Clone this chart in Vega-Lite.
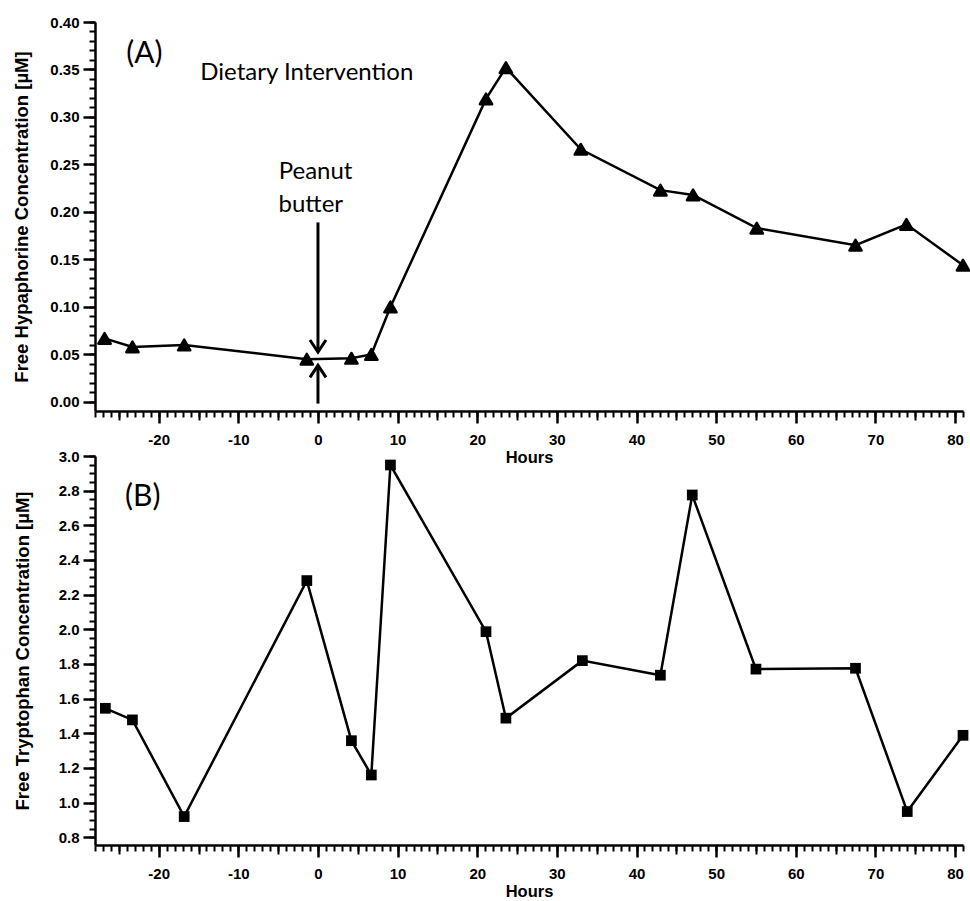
{
  "$schema": "https://vega.github.io/schema/vega-lite/v6.json",
  "background": "white",
  "padding": {"left": 12, "top": 15, "right": 0, "bottom": 5},
  "bounds": "flush",
  "spacing": 45,
  "config": {
    "view": {"stroke": null},
    "axis": {
      "labelFont": "Liberation Sans", "labelFontWeight": "bold", "labelFontSize": 15, "labelColor": "black",
      "titleFont": "Liberation Sans", "titleFontWeight": "bold", "titleColor": "black",
      "domainColor": "black", "tickColor": "black", "grid": false, "labelFlush": false, "labelOverlap": false
    }
  },
  "datasets": {
    "A": [
      {"h": -26.8, "v": 0.067}, {"h": -23.3, "v": 0.058}, {"h": -16.8, "v": 0.060}, {"h": -1.4, "v": 0.045},
      {"h": 4.2, "v": 0.046}, {"h": 6.7, "v": 0.050}, {"h": 9.1, "v": 0.100}, {"h": 21.1, "v": 0.319},
      {"h": 23.6, "v": 0.352}, {"h": 33.0, "v": 0.266}, {"h": 43.0, "v": 0.223}, {"h": 47.1, "v": 0.218},
      {"h": 55.1, "v": 0.183}, {"h": 67.5, "v": 0.165}, {"h": 73.9, "v": 0.187}, {"h": 81.0, "v": 0.144}
    ],
    "B": [
      {"h": -26.7, "v": 1.544}, {"h": -23.3, "v": 1.477}, {"h": -16.8, "v": 0.919}, {"h": -1.4, "v": 2.281},
      {"h": 4.2, "v": 1.357}, {"h": 6.7, "v": 1.159}, {"h": 9.1, "v": 2.948}, {"h": 21.1, "v": 1.986},
      {"h": 23.6, "v": 1.487}, {"h": 33.2, "v": 1.819}, {"h": 43.0, "v": 1.735}, {"h": 47.0, "v": 2.775},
      {"h": 55.0, "v": 1.770}, {"h": 67.5, "v": 1.775}, {"h": 74.0, "v": 0.948}, {"h": 81.0, "v": 1.388}
    ],
    "labelsA": [
      {"h": -21.8, "v": 0.366, "t": "(A)", "s": 30},
      {"h": -1.4, "v": 0.346, "t": "Dietary Intervention", "s": 24},
      {"h": -0.3, "v": 0.242, "t": "Peanut", "s": 24},
      {"h": -0.9, "v": 0.207, "t": "butter", "s": 24}
    ],
    "labelsB": [
      {"h": -22, "v": 2.764, "t": "(B)", "s": 30}
    ],
    "shafts": [
      {"h": 0, "y1": 0.189, "y2": 0.055},
      {"h": 0, "y1": -0.0017, "y2": 0.036}
    ],
    "heads": [
      {"h": 0, "v": 0.0526, "dir": "down"},
      {"h": 0, "v": 0.0386, "dir": "up"}
    ]
  },
  "vconcat": [
    {
      "width": 868,
      "height": 389,
      "resolve": {"axis": {"x": "independent", "y": "independent"}},
      "layer": [
        {
          "data": {"name": "A"},
          "mark": {"type": "line", "color": "black", "strokeWidth": 2.5},
          "encoding": {
            "x": {"field": "h", "type": "quantitative", "scale": {"domain": [-28, 81], "nice": false, "zero": false},
              "axis": {"orient": "bottom", "values": [-20, -10, 0, 10, 20, 30, 40, 50, 60, 70, 80], "labelExpr": "'' + datum.value", "tickSize": 12, "tickWidth": 2.5,
                "domainWidth": 2.5, "labelPadding": 9, "title": "Hours", "titleFontSize": 16.5, "titlePadding": 2}},
            "y": {"field": "v", "type": "quantitative", "scale": {"domain": [-0.0095, 0.4], "nice": false, "zero": false},
              "axis": {"orient": "left", "values": [0, 0.05, 0.1, 0.15, 0.2, 0.25, 0.3, 0.35, 0.4], "format": ".2f", "tickSize": 12, "tickWidth": 2.5,
                "domainWidth": 2.5, "labelPadding": 4, "title": "Free Hypaphorine Concentration [µM]", "titleFontSize": 18.5, "titlePadding": 18}}
          }
        },
        {
          "data": {"name": "A"},
          "mark": {"type": "point", "opacity": 0},
          "encoding": {
            "x": {"field": "h", "type": "quantitative", "scale": {"domain": [-28, 81], "nice": false, "zero": false},
              "axis": {"orient": "bottom", "values": [-28,-27,-26,-25,-24,-23,-22,-21,-20,-19,-18,-17,-16,-15,-14,-13,-12,-11,-10,-9,-8,-7,-6,-5,-4,-3,-2,-1,0,1,2,3,4,5,6,7,8,9,10,11,12,13,14,15,16,17,18,19,20,21,22,23,24,25,26,27,28,29,30,31,32,33,34,35,36,37,38,39,40,41,42,43,44,45,46,47,48,49,50,51,52,53,54,55,56,57,58,59,60,61,62,63,64,65,66,67,68,69,70,71,72,73,74,75,76,77,78,79,80,81],
                "tickSize": 6, "tickWidth": 2, "labels": false, "domain": false, "title": null}},
            "y": {"field": "v", "type": "quantitative", "scale": {"domain": [-0.0095, 0.4], "nice": false, "zero": false},
              "axis": {"orient": "left", "values": [0,0.01,0.02,0.03,0.04,0.05,0.06,0.07,0.08,0.09,0.1,0.11,0.12,0.13,0.14,0.15,0.16,0.17,0.18,0.19,0.2,0.21,0.22,0.23,0.24,0.25,0.26,0.27,0.28,0.29,0.3,0.31,0.32,0.33,0.34,0.35,0.36,0.37,0.38,0.39,0.4],
                "tickSize": 6, "tickWidth": 2, "labels": false, "domain": false, "title": null}}
          }
        },
        {
          "data": {"name": "A"},
          "mark": {"type": "point", "opacity": 0},
          "encoding": {
            "x": {"field": "h", "type": "quantitative", "scale": {"domain": [-28, 81], "nice": false, "zero": false},
              "axis": {"orient": "bottom", "values": [-25,-15,-5,5,15,25,35,45,55,65,75], "tickSize": 9, "tickWidth": 2, "labels": false, "domain": false, "title": null}},
            "y": {"field": "v", "type": "quantitative", "axis": null}
          }
        },
        {
          "data": {"name": "A"},
          "mark": {"type": "point", "shape": "triangle-up", "filled": true, "color": "black", "stroke": "black", "strokeWidth": 2.5, "strokeJoin": "round", "size": 150, "opacity": 1},
          "encoding": {
            "x": {"field": "h", "type": "quantitative", "axis": null},
            "y": {"field": "v", "type": "quantitative", "axis": null}
          }
        },
        {
          "data": {"name": "shafts"},
          "mark": {"type": "rule", "color": "black", "strokeWidth": 3},
          "encoding": {
            "x": {"field": "h", "type": "quantitative", "axis": null},
            "y": {"field": "y1", "type": "quantitative", "axis": null},
            "y2": {"field": "y2"}
          }
        },
        {
          "data": {"name": "heads"},
          "mark": {"type": "point", "filled": false, "color": "black", "strokeWidth": 3, "size": 256, "opacity": 1},
          "encoding": {
            "x": {"field": "h", "type": "quantitative", "axis": null},
            "y": {"field": "v", "type": "quantitative", "axis": null},
            "shape": {"field": "dir", "type": "nominal", "legend": null,
              "scale": {"domain": ["down", "up"], "range": ["M-1,-1.5L0,0L1,-1.5", "M-1,1.5L0,0L1,1.5"]}}
          }
        },
        {
          "data": {"name": "labelsA"},
          "mark": {"type": "text", "font": "Lato", "color": "black", "align": "center", "baseline": "middle"},
          "encoding": {
            "x": {"field": "h", "type": "quantitative", "axis": null},
            "y": {"field": "v", "type": "quantitative", "axis": null},
            "text": {"field": "t"},
            "size": {"field": "s", "type": "quantitative", "scale": null}
          }
        }
      ]
    },
    {
      "width": 868,
      "height": 389,
      "resolve": {"axis": {"x": "independent", "y": "independent"}},
      "layer": [
        {
          "data": {"name": "B"},
          "mark": {"type": "line", "color": "black", "strokeWidth": 2.5},
          "encoding": {
            "x": {"field": "h", "type": "quantitative", "scale": {"domain": [-28, 81], "nice": false, "zero": false},
              "axis": {"orient": "bottom", "values": [-20, -10, 0, 10, 20, 30, 40, 50, 60, 70, 80], "labelExpr": "'' + datum.value", "tickSize": 12, "tickWidth": 2.5,
                "domainWidth": 2.5, "labelPadding": 9, "title": "Hours", "titleFontSize": 16.5, "titlePadding": 2}},
            "y": {"field": "v", "type": "quantitative", "scale": {"domain": [0.755, 3.0], "nice": false, "zero": false},
              "axis": {"orient": "left", "values": [0.8, 1.0, 1.2, 1.4, 1.6, 1.8, 2.0, 2.2, 2.4, 2.6, 2.8, 3.0], "format": ".1f", "tickSize": 12, "tickWidth": 2.5,
                "domainWidth": 2.5, "labelPadding": 4, "title": "Free Tryptophan Concentration [µM]", "titleFontSize": 18.5, "titlePadding": 26}}
          }
        },
        {
          "data": {"name": "B"},
          "mark": {"type": "point", "opacity": 0},
          "encoding": {
            "x": {"field": "h", "type": "quantitative", "scale": {"domain": [-28, 81], "nice": false, "zero": false},
              "axis": {"orient": "bottom", "values": [-28,-27,-26,-25,-24,-23,-22,-21,-20,-19,-18,-17,-16,-15,-14,-13,-12,-11,-10,-9,-8,-7,-6,-5,-4,-3,-2,-1,0,1,2,3,4,5,6,7,8,9,10,11,12,13,14,15,16,17,18,19,20,21,22,23,24,25,26,27,28,29,30,31,32,33,34,35,36,37,38,39,40,41,42,43,44,45,46,47,48,49,50,51,52,53,54,55,56,57,58,59,60,61,62,63,64,65,66,67,68,69,70,71,72,73,74,75,76,77,78,79,80,81],
                "tickSize": 6, "tickWidth": 2, "labels": false, "domain": false, "title": null}},
            "y": {"field": "v", "type": "quantitative", "scale": {"domain": [0.755, 3.0], "nice": false, "zero": false},
              "axis": {"orient": "left", "values": [0.8,0.85,0.9,0.95,1.0,1.05,1.1,1.15,1.2,1.25,1.3,1.35,1.4,1.45,1.5,1.55,1.6,1.65,1.7,1.75,1.8,1.85,1.9,1.95,2.0,2.05,2.1,2.15,2.2,2.25,2.3,2.35,2.4,2.45,2.5,2.55,2.6,2.65,2.7,2.75,2.8,2.85,2.9,2.95,3.0],
                "tickSize": 6, "tickWidth": 2, "labels": false, "domain": false, "title": null}}
          }
        },
        {
          "data": {"name": "B"},
          "mark": {"type": "point", "opacity": 0},
          "encoding": {
            "x": {"field": "h", "type": "quantitative", "scale": {"domain": [-28, 81], "nice": false, "zero": false},
              "axis": {"orient": "bottom", "values": [-25,-15,-5,5,15,25,35,45,55,65,75], "tickSize": 9, "tickWidth": 2, "labels": false, "domain": false, "title": null}},
            "y": {"field": "v", "type": "quantitative", "axis": null}
          }
        },
        {
          "data": {"name": "B"},
          "mark": {"type": "point", "shape": "square", "filled": true, "color": "black", "size": 115, "opacity": 1},
          "encoding": {
            "x": {"field": "h", "type": "quantitative", "axis": null},
            "y": {"field": "v", "type": "quantitative", "axis": null}
          }
        },
        {
          "data": {"name": "labelsB"},
          "mark": {"type": "text", "font": "Lato", "color": "black", "align": "center", "baseline": "middle"},
          "encoding": {
            "x": {"field": "h", "type": "quantitative", "axis": null},
            "y": {"field": "v", "type": "quantitative", "axis": null},
            "text": {"field": "t"},
            "size": {"field": "s", "type": "quantitative", "scale": null}
          }
        }
      ]
    }
  ]
}
